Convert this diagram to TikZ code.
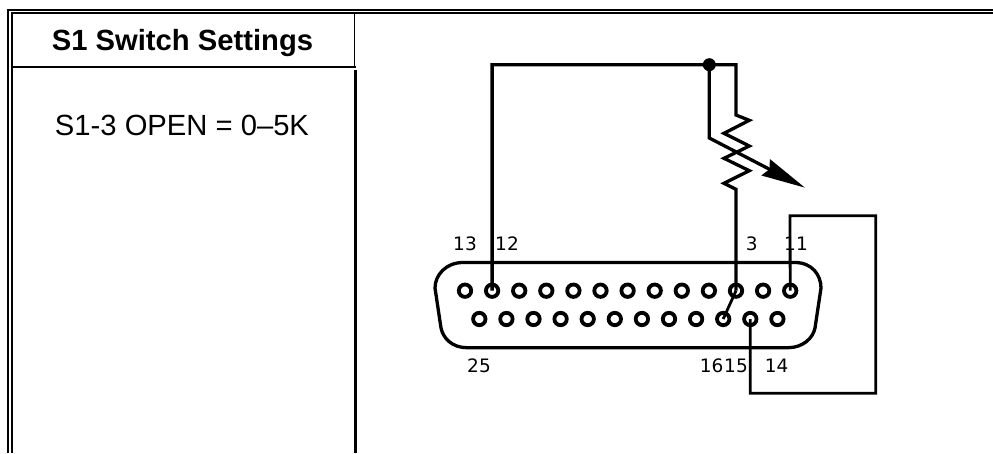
\documentclass[tikz,border=0pt]{standalone}
\usepackage{fontspec}
\setmainfont{Liberation Sans}
\newfontfamily\pinfont{DejaVu Sans}
\usetikzlibrary{arrows.meta}
\tikzset{
  wire/.style={line width=3.3pt},
  rail/.style={line width=1.9pt},
  pinring/.style={circle,draw,line width=3.8pt,minimum size=12.4pt,inner sep=0pt},
  pinlabel/.style={font=\pinfont\fontsize{18.5}{18.5}\selectfont,inner sep=0pt},
  tabletext/.style={font=\fontsize{29.2}{29.2}\selectfont,inner sep=0pt,anchor=base}
}
\begin{document}
\begin{tikzpicture}[x=1pt,y=-1pt]
        \useasboundingbox (0,0) rectangle (993,453);
        % Table rules
        \draw[rail] (8.2,453) -- (8.2,10) -- (993,10);
        \draw[rail] (11.8,453) -- (11.8,13.3) -- (993,13.3);
        \draw[rail] (11.8,66.7) -- (356,66.7);
        \draw[line width=1.2pt] (354.8,13.3) -- (354.8,66.7);
        \draw[line width=2.8pt] (355.3,70) -- (355.3,453);
        % Table text
        \node[tabletext,font=\fontsize{29.2}{29.2}\selectfont\bfseries] (title) at (182.5,50) {S1 Switch Settings};
        \node[tabletext] (setting) at (182,135) {S1-3 OPEN = 0--5K};
        % Connector shell
        \draw[wire] (463,262.5) -- (795,262.5)
            .. controls (812,262.5) and (821,275) .. (821,288)
            -- (815,328)
            .. controls (813,338) and (803,347.7) .. (788,347.7)
            -- (467,347.7)
            .. controls (452,347.7) and (443,338) .. (441,328)
            -- (435,288)
            .. controls (435,275) and (446,262.5) .. (463,262.5) -- cycle;
        % Pins
        \foreach \n in {1,...,13} {
            \node[pinring] (p\n) at ({465+(13-\n)*27.1},290.7) {};
        }
        \foreach \n in {14,...,25} {
            \node[pinring] (p\n) at ({479.3+(25-\n)*27.1},319) {};
        }
        % Pin labels
        \node[pinlabel] (l13) at (465,244) {13};
        \node[pinlabel] (l12) at (507,244) {12};
        \node[pinlabel] (l3) at (751.7,244) {3};
        \node[pinlabel] (l11) at (796,244) {11};
        \node[pinlabel] (l25) at (479,365.7) {25};
        \node[pinlabel] (l16) at (711.7,365.7) {16};
        \node[pinlabel] (l15) at (736,365.7) {15};
        \node[pinlabel] (l14) at (776.7,365.7) {14};
        % Wiper and pot
        \coordinate (corner12) at (p12 |- 0,64.7);
        \coordinate (pottop) at (p3 |- 0,64.7);
        \node[circle,fill,minimum size=13pt,inner sep=0pt] (dot) at (709.3,64.7) {};
        \coordinate (kink) at (709.3,138);
        \coordinate (tip) at (805,187.7);
        \draw[wire] (p12.center) -- (corner12) -- (pottop) -- ++(0,50.3)
            -- ++(13.3,5.3) -- ++(-25.3,13) -- ++(25.3,12.7) -- ++(-25.3,12.3)
            -- ++(25.3,12.4) -- ++(-25.3,12.6) -- ++(12,6) -- (p3.center);
        \draw[wire,-{Stealth[length=44pt,width=18pt,inset=4pt]}] (dot.center) -- (kink) -- (tip);
        % Jumpers
        \draw[wire,line width=2.8pt] (p16.center) -- (p3.center);
        \coordinate (loopa) at (790,215.7);
        \coordinate (loopb) at (875.7,215.7);
        \coordinate (loopc) at (875.7,393.3);
        \coordinate (loopd) at (p15 |- 0,393.3);
        \draw[wire,line width=2.8pt] (p1.center) -- (loopa) -- (loopb) -- (loopc) -- (loopd) -- (p15.center);
\end{tikzpicture}
\end{document}
